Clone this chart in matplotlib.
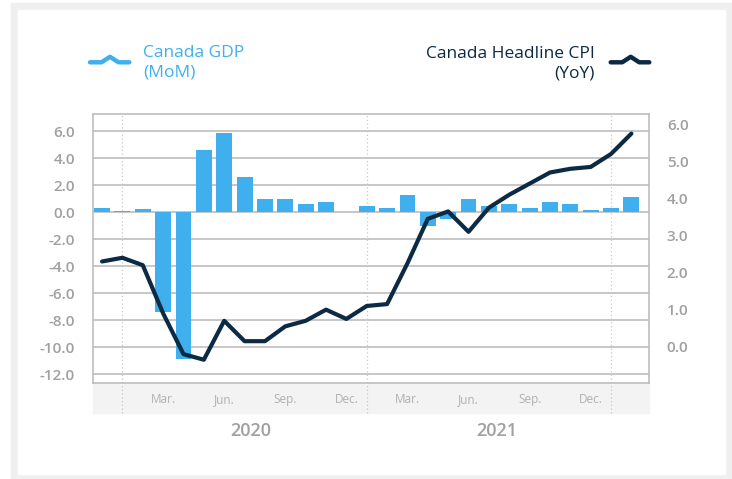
import matplotlib.pyplot as plt
from matplotlib.lines import Line2D
from matplotlib.patches import Rectangle
import numpy as np

plt.rcParams['font.family'] = ['Open Sans', 'DejaVu Sans']

# monthly data, Dec 2019 .. Feb 2022
months = ["Dec", "Jan", "Feb", "Mar", "Apr", "May", "Jun", "Jul", "Aug", "Sep", "Oct", "Nov",
          "Dec", "Jan", "Feb", "Mar", "Apr", "May", "Jun", "Jul", "Aug", "Sep", "Oct", "Nov",
          "Dec", "Jan", "Feb"]
gdp_mom = [0.3, 0.1, 0.25, -7.35, -10.9, 4.6, 5.85, 2.6, 0.95, 0.95, 0.65, 0.75,
           0.0, 0.45, 0.3, 1.25, -1.05, -0.5, 0.95, 0.45, 0.65, 0.35, 0.8, 0.65,
           0.2, 0.3, 1.1]
cpi_yoy = [2.3, 2.4, 2.2, 0.9, -0.2, -0.35, 0.7, 0.15, 0.15, 0.55, 0.7, 1.0,
           0.75, 1.1, 1.15, 2.25, 3.45, 3.65, 3.1, 3.75, 4.1, 4.4, 4.7, 4.8,
           4.85, 5.2, 5.75]
tick_months = [3, 6, 9, 12, 15, 18, 21, 24]
tick_labels = ["Mar.", "Jun.", "Sep.", "Dec.", "Mar.", "Jun.", "Sep.", "Dec."]
year_starts = [1, 13, 25]
years = ["2020", "2021"]
year_pos = [7.3, 19.4]
left_ticks = np.arange(-12, 7, 2)
right_ticks = np.arange(0, 7, 1)

BLUE = '#3fafed'
NAVY = '#0c2a44'
GRID = '#bdbdbd'
TXT = '#a0a0a0'

W, H = 732, 479
fig = plt.figure(figsize=(W / 100, H / 100), dpi=100)

def fx(px):
    return px / W

def fy(py):
    return 1 - py / H

# outer grey frame
fig.patches.append(Rectangle((fx(11), fy(479)), fx(732) - fx(11), fy(3) - fy(479),
                             transform=fig.transFigure, color='#efefef', zorder=-3))
fig.patches.append(Rectangle((fx(18), fy(474)), fx(725) - fx(18), fy(10) - fy(474),
                             transform=fig.transFigure, color='white', zorder=-2))

ax = fig.add_axes([fx(93.3), fy(382.7), fx(648.7) - fx(93.3), fy(114.3) - fy(382.7)])
ax.patch.set_alpha(0)
x = np.arange(len(months))

ax.bar(x, gdp_mom, width=0.78, color=BLUE, zorder=3)
ax.set_xlim(-0.43, 26.85)
ax.set_ylim(-12.62, 7.26)
ax.set_yticks(left_ticks)
ax.set_yticklabels([f"{v:.1f}" for v in left_ticks])
ax.yaxis.grid(True, color=GRID, linewidth=1.2, zorder=1)
ax.set_axisbelow(True)
ax.set_xticks([])
for s in ax.spines.values():
    s.set_color(GRID)
    s.set_linewidth(1.2)
ax.tick_params(axis='y', length=0, pad=13, labelcolor=TXT, labelsize=11)
for t in ax.get_yticklabels():
    t.set_fontweight('semibold')

# grey x-axis band
ax.add_patch(Rectangle((0, -0.112), 1, 0.112, transform=ax.transAxes,
                       color='#f3f3f3', clip_on=False, zorder=0))
for xs in year_starts:
    ax.axvline(xs, ymin=-0.112, ymax=1, color='#c8c8c8', linestyle=(0, (1, 2)),
               linewidth=0.9, clip_on=False, zorder=2)
for m, lab in zip(tick_months, tick_labels):
    ax.text(m, -0.062, lab, transform=ax.get_xaxis_transform(), ha='center', va='center',
            color='#b0b0b0', fontsize=8.5)
for yp, yr in zip(year_pos, years):
    ax.text(yp, -0.18, yr, transform=ax.get_xaxis_transform(), ha='center', va='center',
            color=TXT, fontsize=13, fontweight='semibold')

ax2 = ax.twinx()
ax2.plot(x, cpi_yoy, color=NAVY, linewidth=3, solid_joinstyle='round',
         solid_capstyle='round', zorder=4)
ax2.set_ylim(-0.97, 6.27)
ax2.set_yticks(right_ticks)
ax2.set_yticklabels([f"{v:.1f}" for v in right_ticks])
ax2.tick_params(axis='y', length=0, pad=13, labelcolor=TXT, labelsize=11)
for t in ax2.get_yticklabels():
    t.set_fontweight('semibold')
for s in ax2.spines.values():
    s.set_visible(False)

# legend
def legend_icon(x0, x1, y, color):
    xs = [x0, x0 + 11.5, x0 + 20, x0 + 28.5, x1]
    ys = [y, y, y - 5.5, y, y]
    fig.lines.append(Line2D([fx(v) for v in xs], [fy(v) for v in ys], transform=fig.transFigure,
                            color=color, linewidth=3.2, solid_capstyle='round'))

legend_icon(90, 129.3, 62.3, BLUE)
legend_icon(610.7, 649.3, 62.3, NAVY)
fig.text(fx(143), fy(62.5), "Canada GDP\n(MoM)", color=BLUE, fontsize=12.5,
         ha='left', va='center', linespacing=1.25, fontweight='medium')
fig.text(fx(595), fy(64), "Canada Headline CPI\n(YoY)", color=NAVY, fontsize=12.5,
         ha='right', va='center', linespacing=1.25, multialignment='right',
         fontweight='medium')

fig.savefig('out.png', dpi=100)
